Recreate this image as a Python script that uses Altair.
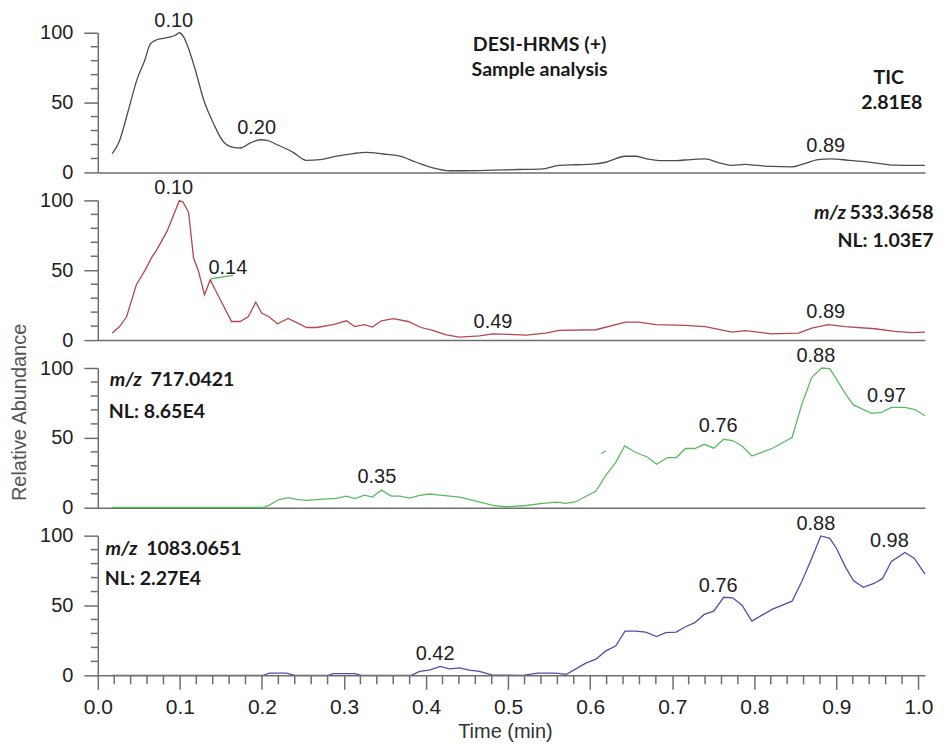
import altair as alt
import pandas as pd

# ---------------- data ----------------
# Panel 1: TIC
tic_t = [0.0175,0.026,0.037,0.048,0.057,0.064,0.072,0.080,0.088,0.094,0.0993,0.1045,0.111,0.119,0.129,0.141,0.153,0.165,0.174,0.1855,0.198,0.206,0.218,0.238,0.254,0.271,0.291,0.311,0.327,0.3475,0.368,0.388,0.408,0.4285,0.445,0.481,0.512,0.542,0.562,0.583,0.603,0.619,0.643,0.655,0.669,0.684,0.704,0.722,0.740,0.757,0.773,0.789,0.805,0.821,0.846,0.858,0.878,0.894,0.9145,0.947,0.971,0.990,1.008]
tic_v = [13.5,22,44,67,80,92,95,96,97,98,100,97,88,73,52,35,22,18,17.5,21,23.4,23,20,14.4,8.7,9.2,11.6,13.5,14.4,13.2,11.6,7.3,3.3,1.2,1.2,1.6,2.1,2.6,5,5.5,5.9,7.3,11.6,11.6,9.7,8.5,8.5,9.2,9.7,6.9,5,5.7,5,4.3,4,5.7,9.2,9.7,8.7,6.9,5.2,5,5]

# Panel 2: m/z 533.3658
mz533_t = [0.0175,0.026,0.035,0.047,0.058,0.066,0.0713,0.0843,0.0993,0.1038,0.1106,0.1167,0.1228,0.130,0.137,0.143,0.163,0.1735,0.1835,0.1925,0.1997,0.208,0.219,0.232,0.2545,0.2666,0.2868,0.303,0.313,0.325,0.3346,0.3456,0.360,0.378,0.394,0.408,0.4246,0.4407,0.465,0.481,0.522,0.546,0.562,0.607,0.643,0.659,0.680,0.716,0.740,0.773,0.789,0.821,0.854,0.870,0.890,0.9106,0.947,0.971,0.9915,1.008]
mz533_v = [5,9.3,16.5,39.6,50.4,59.5,64,77.8,99.8,98.8,91.4,58.7,49.1,32.4,43.2,36,13.3,13.3,16.9,27.2,19.3,16.9,11.7,15.5,9,9,11,13.8,9.7,11,9.3,13.8,15.3,13.3,9,6.9,3.8,2.1,3,4.5,3.6,5,6.9,7.4,12.9,12.9,11,10.5,9.7,5.7,6.7,4.5,5,8.6,11,9.7,8.1,6.2,5.4,5.7]
stray2_t = [0.138, 0.165]
stray2_v = [43.9, 46.3]

# Panel 3: m/z 717.0421
mz717_t = [0.0175,0.165,0.2017,0.209,0.22,0.232,0.242,0.2545,0.2706,0.291,0.303,0.313,0.325,0.3346,0.3456,0.3577,0.368,0.38,0.392,0.404,0.4204,0.4407,0.461,0.481,0.4975,0.522,0.542,0.560,0.570,0.5825,0.607,0.619,0.631,0.642,0.6555,0.6695,0.681,0.694,0.705,0.716,0.7275,0.739,0.7505,0.7627,0.7736,0.785,0.797,0.8215,0.846,0.858,0.870,0.882,0.892,0.900,0.9106,0.9207,0.943,0.955,0.967,0.9835,0.9956,1.008]
mz717_v = [0.3,0.3,0.3,1.9,5.7,7.2,6,5.2,6,6.7,8.3,6.5,9,7.6,12.6,8.3,8.3,6.9,8.8,9.8,8.8,7.6,4.7,1.6,0.7,1.6,3.1,4,3.1,4.3,11.9,23.2,32.3,44.2,39.5,36.3,31.1,35.9,35.9,42.4,42.4,45.4,42.6,49,48.1,44.2,37,42.4,50.3,74.2,93.3,100,99.5,92,81.8,73.6,67.5,68.2,71.8,71.8,70.3,65.8]
stray3_t = [0.613, 0.619]
stray3_v = [38.8, 40.6]

# Panel 4: m/z 1083.0651
mz1083_t = [0.0175,0.2017,0.209,0.230,0.240,0.2807,0.2868,0.313,0.321,0.382,0.392,0.404,0.4173,0.4286,0.4407,0.4528,0.465,0.481,0.518,0.536,0.558,0.571,0.5947,0.607,0.619,0.631,0.6424,0.6554,0.6676,0.681,0.692,0.7048,0.716,0.7275,0.739,0.7505,0.7627,0.7736,0.785,0.797,0.8215,0.846,0.858,0.870,0.881,0.892,0.900,0.9106,0.9207,0.9328,0.945,0.956,0.967,0.9835,0.9948,1.008]
mz1083_v = [0,0,1.6,1.6,0,0,1.3,1.3,0,0,2.8,3.8,6.4,4.7,5.3,3.8,2.8,0.2,0,1.6,1.6,0.7,8.7,11.6,17.5,21,31.7,31.7,31,27.7,30.6,31,34.8,37.7,43.6,45.9,55.9,55.5,50.2,38.8,47.2,53.1,67.3,83.9,99.8,98.1,91,78,67.8,63,65.6,69.2,81.5,87.9,83.9,72.5]

# peak labels (text, time, label height)
peaks1_s = ["0.10", "0.20", "0.89"]
peaks1_t = [0.0925, 0.1935, 0.887]
peaks1_v = [108.5, 31.7, 18.7]
peaks2_s = ["0.10", "0.14", "0.49", "0.89"]
peaks2_t = [0.0925, 0.1585, 0.4815, 0.887]
peaks2_v = [108.9, 51.6, 12.6, 19.8]
peaks3_s = ["0.35", "0.76", "0.88", "0.97"]
peaks3_t = [0.340, 0.756, 0.875, 0.961]
peaks3_v = [22.0, 58.6, 108.8, 80.1]
peaks4_s = ["0.42", "0.76", "0.88", "0.98"]
peaks4_t = [0.411, 0.756, 0.875, 0.9645]
peaks4_v = [15.1, 64.2, 108.1, 96.2]

major_x = [0.0, 0.1, 0.2, 0.3, 0.4, 0.5, 0.6, 0.7, 0.8, 0.9, 1.0]
minor_x = [0.02,0.04,0.06,0.08,0.12,0.14,0.16,0.18,0.22,0.24,0.26,0.28,0.32,0.34,0.36,0.38,
           0.42,0.44,0.46,0.48,0.52,0.54,0.56,0.58,0.62,0.64,0.66,0.68,0.72,0.74,0.76,0.78,
           0.82,0.84,0.86,0.88,0.92,0.94,0.96,0.98]
major_y = [0, 50, 100]
minor_y = [10, 20, 30, 40, 60, 70, 80, 90]

# ---------------- styling ----------------
XDOM = [0, 1.008]
W, H = 829, 140
AX = "#6e6e6e"
NUMFONT = "Liberation Sans"
BOLDFONT = "Lato"


def xs():
    return alt.Scale(domain=XDOM, nice=False, zero=False)


def ys():
    return alt.Scale(domain=[0, 100], nice=False, zero=False)


def panel(t, v, color, ps, pt, pv, notes, bottom=False, ytitle=None,
          interp="linear", axis_z=1, strays=None):
    if bottom:
        xaxis = alt.Axis(values=major_x, format=".1f", tickSize=14, tickWidth=1.5,
                         tickColor=AX, domainColor=AX, domainWidth=1.5,
                         labelFontSize=21, labelPadding=7, labelColor="#222",
                         labelFont=NUMFONT, labelFlush=False, grid=False,
                         title="Time (min)", titleFont=NUMFONT, titleFontSize=20,
                         titleFontWeight="normal", titleColor="#333",
                         titleX=408, titleY=56, titleAlign="center",
                         titleBaseline="middle", zindex=axis_z)
    else:
        xaxis = alt.Axis(labels=False, ticks=False, title=None, domainColor=AX,
                         domainWidth=1.5, grid=False, zindex=axis_z)
    ykw = dict(values=major_y, tickSize=14, tickWidth=1.5, tickColor=AX,
               domainColor=AX, domainWidth=1.5, labelFontSize=20, labelPadding=11,
               labelColor="#222", labelFont=NUMFONT, labelFlush=False, grid=False,
               zindex=axis_z)
    if ytitle:
        ykw.update(title=ytitle, titleFont=NUMFONT, titleFontSize=20,
                   titleFontWeight="normal", titleColor="#555", titleAngle=270,
                   titleX=-72, titleY=44, titleAlign="center",
                   titleBaseline="alphabetic")
    else:
        ykw.update(title=None)
    yaxis = alt.Axis(**ykw)

    X = alt.X("t:Q", scale=xs(), axis=xaxis)
    Y = alt.Y("v:Q", scale=ys(), axis=yaxis)

    def ann(tt, vv, s, align, italic=False, size=19.6):
        df = pd.DataFrame({"t": [tt], "v": [vv], "s": [s]})
        kw = dict(font=BOLDFONT, fontWeight="bold", fontSize=size, color="#1a1a1a",
                  align=align, baseline="middle")
        if italic:
            kw["fontStyle"] = "italic"
        return alt.Chart(df).mark_text(**kw).encode(x=X, y=Y, text="s:N")

    line = alt.Chart(pd.DataFrame({"t": t, "v": v})).mark_line(
        color=color, strokeWidth=1.3, interpolate=interp).encode(x=X, y=Y)

    yminor = alt.Chart(pd.DataFrame({"v": minor_y})).mark_rule(
        color=AX, strokeWidth=1.5).encode(y=Y, x=alt.value(-7), x2=alt.value(0))

    labels = alt.Chart(pd.DataFrame({"t": pt, "v": pv, "s": ps})).mark_text(
        font=NUMFONT, fontSize=20, color="#222", align="center",
        baseline="middle").encode(x=X, y=Y, text="s:N")

    layers = [line, yminor, labels]
    if bottom:
        xminor = alt.Chart(pd.DataFrame({"t": minor_x})).mark_rule(
            color=AX, strokeWidth=1.5).encode(x=X, y=alt.value(H), y2=alt.value(H + 9))
        layers.append(xminor)
    if strays:
        st, sv, sc = strays
        layers.append(alt.Chart(pd.DataFrame({"t": st, "v": sv})).mark_line(
            color=sc, strokeWidth=1.3).encode(x=X, y=Y))
    layers += [ann(*n[:4], **(n[4] if len(n) > 4 else {})) for n in notes]
    return alt.layer(*layers).properties(width=W, height=H)


RED = "#b4474f"
GREEN = "#5dba63"
BLUE = "#4f4fa8"
GREY = "#4d4d4d"

p1 = panel(tic_t, tic_v, GREY, peaks1_s, peaks1_t, peaks1_v, [
    (0.5383, 91.5, "DESI-HRMS (+)", "center"),
    (0.5383, 73.0, "Sample analysis", "center"),
    (0.9639, 67.8, "TIC", "center"),
    (0.9675, 49.9, "2.81E8", "center"),
], interp="monotone")

p2 = panel(mz533_t, mz533_v, RED, peaks2_s, peaks2_t, peaks2_v, [
    (0.9116, 91.0, "m/z", "right", {"italic": True}),
    (1.0185, 91.0, "533.3658", "right"),
    (1.0185, 70.6, "NL: 1.03E7", "right"),
], strays=(stray2_t, stray2_v, GREEN))

p3 = panel(mz717_t, mz717_v, GREEN, peaks3_s, peaks3_t, peaks3_v, [
    (0.0146, 91.4, "m/z", "left", {"italic": True}),
    (0.0641, 91.4, "717.0421", "left"),
    (0.0134, 68.2, "NL: 8.65E4", "left"),
], ytitle="Relative Abundance", axis_z=0, strays=(stray3_t, stray3_v, GREEN))

p4 = panel(mz1083_t, mz1083_v, BLUE, peaks4_s, peaks4_t, peaks4_v, [
    (0.0094, 90.3, "m/z", "left", {"italic": True}),
    (0.0589, 90.3, "1083.0651", "left"),
    (0.0085, 69.2, "NL: 2.27E4", "left"),
], bottom=True)

chart = alt.vconcat(p1, p2, p3, p4, spacing=28, bounds="flush").configure_view(
    stroke=None).properties(padding={"left": 1, "top": 2, "right": 2, "bottom": 2},
                            background="white")

chart.save("out.html", embed_options={"renderer": "svg", "actions": False})
